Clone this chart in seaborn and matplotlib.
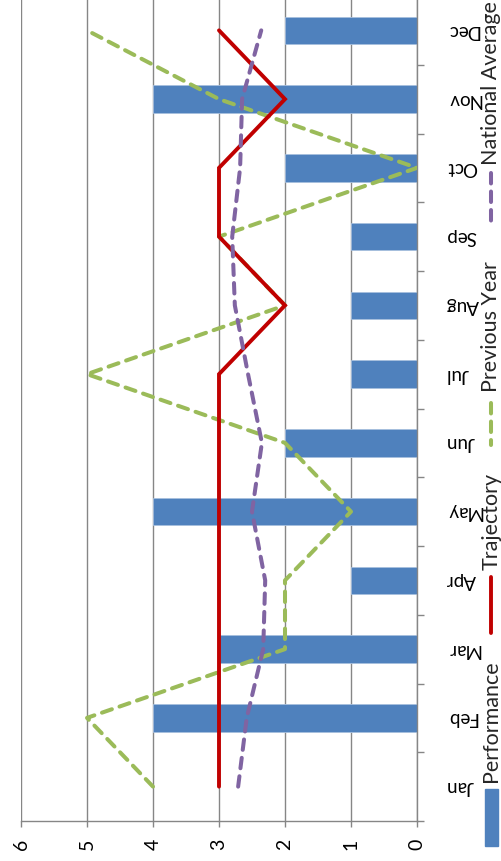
import numpy as np
import pandas as pd
import matplotlib
matplotlib.use("Agg")
import matplotlib.pyplot as plt
import seaborn as sns
from matplotlib.lines import Line2D
from matplotlib.patches import Rectangle

# Monthly figures
months = ["Jan", "Feb", "Mar", "Apr", "May", "Jun",
          "Jul", "Aug", "Sep", "Oct", "Nov", "Dec"]
performance = [0, 4, 3, 1, 4, 2, 1, 1, 1, 2, 4, 2]
trajectory = [3, 3, 3, 3, 3, 3, 3, 2, 3, 3, 2, 3]
previous_year = [4, 5, 2, 2, 1, 2, 5, 2, 3, 0, 3, 5]
national_average = [2.71, 2.58, 2.33, 2.30, 2.50, 2.35,
                    2.56, 2.76, 2.80, 2.68, 2.65, 2.36]
value_ticks = [0, 1, 2, 3, 4, 5, 6]

BLUE = "#4F81BD"
RED = "#C00000"
GREEN = "#9BBB59"
PURPLE = "#8064A2"
GRID = "#868686"

sns.set_theme(style="white")
plt.rcParams["font.family"] = ["Lato", "DejaVu Sans"]

W, H = 502, 861
fig = plt.figure(figsize=(W / 100, H / 100), dpi=100)


def box(x0, y0, x1, y1):
    return [x0 / W, 1 - y1 / H, (x1 - x0) / W, (y1 - y0) / H]


def fpt(x, y):
    return (x / W, 1 - y / H)


ax = fig.add_axes(box(21, -4, 417, 821))

df = pd.DataFrame({
    "month": months,
    "pos": np.arange(len(months)),
    "performance": performance,
    "trajectory": trajectory,
    "previous_year": previous_year,
    "national_average": national_average,
})

# Bars run from the value axis (0 on the right) towards 6 on the left
sns.barplot(data=df, x="performance", y="month", orient="h", color=BLUE,
            saturation=1, width=0.4, ax=ax, linewidth=0.6,
            edgecolor="#A7BFDE", zorder=2)

sns.lineplot(data=df, x="trajectory", y="pos", orient="y", sort=False,
             estimator=None, color=RED, linewidth=2.8, ax=ax, zorder=4,
             solid_capstyle="round", solid_joinstyle="miter")
sns.lineplot(data=df, x="previous_year", y="pos", orient="y", sort=False,
             estimator=None, color=GREEN, linewidth=2.9, ax=ax, zorder=3,
             linestyle=(0, (2.6, 2.0)), dash_capstyle="round")
sns.lineplot(data=df, x="national_average", y="pos", orient="y", sort=False,
             estimator=None, color=PURPLE, linewidth=2.9, ax=ax, zorder=5,
             linestyle=(0, (2.6, 2.0)), dash_capstyle="round")

ax.set_xlim(6, 0)
ax.set_ylim(-0.5, len(months) - 0.5)
ax.set_xlabel("")
ax.set_ylabel("")

# Value axis along the bottom, labels turned a quarter
ax.set_xticks(value_ticks)
ax.set_xticklabels([str(v) for v in value_ticks])
ax.xaxis.grid(True, color=GRID, linewidth=1.0, zorder=0)
ax.yaxis.grid(False)
ax.set_axisbelow(True)
ax.tick_params(axis="x", bottom=True, direction="out", length=4,
               width=1.0, color=GRID, pad=9, labelsize=14, labelcolor="black")
for lab in ax.get_xticklabels():
    lab.set_rotation(90)
    lab.set_ha("center")
    lab.set_va("top")

# Month axis on the right with ticks between categories
ax.yaxis.tick_right()
ax.set_yticks(np.arange(len(months)))
ax.set_yticklabels(months)
ax.set_yticks(np.arange(-0.5, len(months)), minor=True)
ax.tick_params(axis="y", which="major", right=True, length=0, pad=21,
               labelsize=13.5, labelcolor="black")
ax.tick_params(axis="y", which="minor", right=True, direction="out",
               length=5, width=1.0, color=GRID)
for lab in ax.get_yticklabels():
    lab.set_rotation(180)
    lab.set_ha("left")
    lab.set_va("center")

for side in ["top", "left"]:
    ax.spines[side].set_visible(False)
for side in ["right", "bottom"]:
    ax.spines[side].set_visible(True)
    ax.spines[side].set_color(GRID)
    ax.spines[side].set_linewidth(1.0)

# Legend, laid out along the right edge
lx = 491.5
lfs = 15.5
fig.add_artist(Rectangle(fpt(485, 846), 13 / W, 57 / H,
                         transform=fig.transFigure, color=BLUE))
fig.text(*fpt(lx, 782), "Performance", rotation=90, ha="center",
         va="bottom", fontsize=lfs)

fig.add_artist(Line2D([lx / W, lx / W], [1 - 577 / H, 1 - 633 / H],
                      transform=fig.transFigure, color=RED, linewidth=2.8,
                      solid_capstyle="round"))
fig.text(*fpt(lx, 570), "Trajectory", rotation=90, ha="center",
         va="bottom", fontsize=lfs)

fig.add_artist(Line2D([lx / W, lx / W], [1 - 403 / H, 1 - 445 / H],
                      transform=fig.transFigure, color=GREEN, linewidth=2.9,
                      linestyle=(0, (2.6, 2.0)), dash_capstyle="round"))
fig.text(*fpt(lx, 392), "Previous Year", rotation=90, ha="center",
         va="bottom", fontsize=lfs)

fig.add_artist(Line2D([lx / W, lx / W], [1 - 173 / H, 1 - 222 / H],
                      transform=fig.transFigure, color=PURPLE, linewidth=2.9,
                      linestyle=(0, (2.6, 2.0)), dash_capstyle="round"))
fig.text(*fpt(lx, 165), "National Average", rotation=90, ha="center",
         va="bottom", fontsize=lfs)

fig.savefig("out.png", dpi=100, facecolor="white")
